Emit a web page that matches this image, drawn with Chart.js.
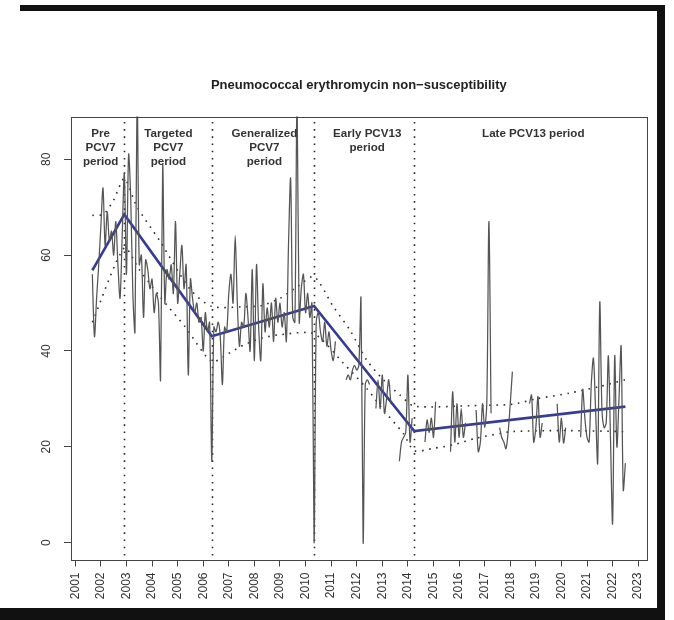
<!DOCTYPE html>
<html>
<head>
<meta charset="utf-8">
<script src="https://cdn.jsdelivr.net/npm/chart.js@4.4.1/dist/chart.umd.min.js"></script>
<style>
  html, body { margin: 0; padding: 0; background: #fff; }
  #wrap { position: relative; width: 674px; height: 620px; overflow: hidden; background: #fff; }
  #c { position: absolute; left: 0; top: 0; }
  .frame { position: absolute; background: #111; }
</style>
</head>
<body>
<div id="wrap">
  <canvas id="c" width="674" height="620"></canvas>
  <div class="frame" style="left:20px;top:5px;width:645px;height:6px"></div>
  <div class="frame" style="left:657px;top:5px;width:8px;height:615px"></div>
  <div class="frame" style="left:0;top:608px;width:665px;height:12px"></div>
</div>
<script>
// Axis ticks
const tickYears = [2001, 2002, 2003, 2004, 2005, 2006, 2007, 2008, 2009, 2010, 2011, 2012,
                   2013, 2014, 2015, 2016, 2017, 2018, 2019, 2020, 2021, 2022, 2023];
const yTicks = [0, 20, 40, 60, 80];

// Vaccine period boundaries (decimal years) and their labels
const periodStarts = [2002.917, 2006.333, 2010.333, 2014.25];
const periodLabels = [
  { year: 2001.99, lines: ['Pre', 'PCV7', 'period'] },
  { year: 2004.64, lines: ['Targeted', 'PCV7', 'period'] },
  { year: 2008.39, lines: ['Generalized', 'PCV7', 'period'] },
  { year: 2012.41, lines: ['Early PCV13', 'period'] },
  { year: 2018.90, lines: ['Late PCV13 period'] }
];

// Monthly erythromycin non-susceptibility (%), first month = Sep 2001
const seriesStart = 2001 + 8 / 12;
const prePCV7 = [56, 43, 51, 58, 66, 74, 62, 69, 63, 65, 60, 67, 58, 51, 64];
const targetedPCV7 = [77, 56, 81, 72, 52, 44, 95, 58, 60, 47, 59, 57, 53, 55, 48, 52, 50, 34, 79, 50,
                      57, 55, 58, 52, 67, 50, 56, 62, 53, 58, 35, 55, 51, 48, 50, 46, 47, 40, 48, 44, 46];
const generalizedPCV7 = [17, 45, 44, 46, 43, 33, 45, 44, 52, 56, 50, 64, 50, 41, 46, 45, 52, 47, 40, 57,
                         38, 58, 45, 38, 54, 44, 49, 45, 50, 42, 51, 46, 50, 45, 48, 42, 62, 76, 47, 46,
                         95, 46, 53, 56, 48, 52, 47, 50];
const earlyPCV13 = [0, 46, 48, 44, 42, 46, 41, 44, 40, 38, 42, null, null, null, null, 34, 35, 34, 36, 37,
                    36, 37, 51, 0, 33, 34, 33, null, null, 28, 34, 28, 35, 27, 30, 34, 29, null, null, null,
                    17, 21, 22, 23, 35, 21, 26];
const latePCV13 = [null, null, null, null, null, 21, 25.6, 23, 26, 22, 29.4, null, null, null, null, null, null,
                   19, 31.5, 21, 29, 22, 28, 22, 25, null, null, null, null,
                   27.7, 19, 21, 29, 24, 29, 67, 27, null, null, null,
                   24, 22, 21, 19.6, 23, 29, 35.7, null, null, null, null, null, null, null,
                   29, 30.8, 21, 24, 30.5, 22, 25, null, null, null, null, null, null,
                   29, 21, 26, 20.8, 24, null, null, null, null, null, null,
                   22, 32, 26, 22, 21, 33, 38.5, 28, 16.6, 50.2, 28, 24, 25, 39, 22, 4, 39, 20, 30, 41, 11, 16.6];

// Segmented regression fit and its confidence limits
const trendYears = [2001.667, 2002.917, 2006.333, 2010.333, 2014.25, 2022.5];
const trendValues = [56.8, 68.5, 43.1, 49.4, 23.3, 28.4];
const upperYears = [2001.667, 2002.1, 2002.5, 2002.917, 2003.4, 2004.3, 2005.5, 2006.333, 2007.5, 2008.3,
                    2009.0, 2009.7, 2010.333, 2011.08, 2011.73, 2012.39, 2013.04, 2013.69, 2014.25,
                    2016.5, 2018.1, 2019.0, 2020.3, 2021.5, 2022.5];
const upperValues = [68.3, 68.5, 71.5, 76, 70.2, 63, 52.8, 49.3, 49.2, 49.5,
                     51, 53.5, 55.5, 49.3, 44.4, 38.1, 34, 30.8, 28.5,
                     28.6, 28.9, 30.0, 31.2, 32.6, 34];
const lowerYears = [2001.667, 2002.917, 2003.5, 2004.3, 2005.3, 2006.333, 2007.0, 2007.6, 2008.3, 2009.0,
                    2010.333, 2011.47, 2012.39, 2013.04, 2013.82, 2014.25, 2015.0, 2015.75, 2016.66,
                    2017.6, 2018.1, 2020.0, 2022.5];
const lowerValues = [46, 61.5, 57, 51.4, 45, 37.8, 39.5, 41.3, 42.7, 43.4,
                     43.6, 37.5, 32.2, 27.7, 22.8, 19.2, 19.7, 20.4, 21.8,
                     22.8, 23.2, 23.4, 23.2];

const monthly = [].concat(prePCV7, targetedPCV7, generalizedPCV7, earlyPCV13, latePCV13);
const monthlyPoints = monthly.map((v, i) => ({ x: seriesStart + i / 12, y: v }));
const pairUp = (xs, ys) => xs.map((x, i) => ({ x: x, y: ys[i] }));

const FONT = '"Liberation Sans", Arial, Helvetica, sans-serif';
const INK = '#333333';

// Plot box, period separators and period captions
const decorations = {
  id: 'decorations',
  beforeDatasetsDraw(chart) {
    const { ctx, chartArea: a, scales: { x } } = chart;
    ctx.save();
    ctx.strokeStyle = '#2a2a2a';
    ctx.lineWidth = 1.6;
    ctx.setLineDash([1.6, 5.6]);
    periodStarts.forEach(p => {
      const px = Math.round(x.getPixelForValue(p)) + 0.5;
      ctx.beginPath();
      ctx.moveTo(px, a.bottom - 4);
      ctx.lineTo(px, a.top);
      ctx.stroke();
    });
    ctx.restore();
  },
  afterDatasetsDraw(chart) {
    const { ctx, chartArea: a, scales: { x } } = chart;
    ctx.save();
    ctx.strokeStyle = '#444';
    ctx.lineWidth = 1;
    ctx.strokeRect(Math.round(a.left) + 0.5, Math.round(a.top) + 0.5,
                   Math.round(a.right - a.left), Math.round(a.bottom - a.top));
    ctx.fillStyle = INK;
    ctx.font = 'bold 11.6px ' + FONT;
    ctx.textAlign = 'center';
    ctx.textBaseline = 'middle';
    periodLabels.forEach(lbl => {
      const px = x.getPixelForValue(lbl.year);
      lbl.lines.forEach((t, k) => ctx.fillText(t, px, a.top + 17.5 + k * 14));
    });
    ctx.restore();
  }
};

new Chart(document.getElementById('c'), {
  type: 'line',
  data: {
    datasets: [
      { data: monthlyPoints, borderColor: '#555555', borderWidth: 1.25, pointRadius: 0,
        tension: 0.3, spanGaps: false, clip: 0 },
      { data: pairUp(upperYears, upperValues), borderColor: '#2e2e2e', borderWidth: 1.6,
        borderDash: [1.6, 5.6], pointRadius: 0, tension: 0.25, clip: 0 },
      { data: pairUp(lowerYears, lowerValues), borderColor: '#2e2e2e', borderWidth: 1.6,
        borderDash: [1.6, 5.6], pointRadius: 0, tension: 0.25, clip: 0 },
      { data: pairUp(trendYears, trendValues), borderColor: '#363c96', borderWidth: 2.6,
        pointRadius: 0, tension: 0, clip: 0 }
    ]
  },
  options: {
    responsive: false,
    animation: false,
    devicePixelRatio: 1,
    events: [],
    layout: { padding: { left: 0, right: 27.3, top: 0, bottom: 0 } },
    plugins: {
      legend: { display: false },
      tooltip: { enabled: false },
      title: {
        display: true,
        fullSize: false,
        text: 'Pneumococcal erythromycin non\u2212susceptibility',
        color: '#222',
        font: { family: FONT, size: 13, weight: 'bold' },
        padding: { top: 78, bottom: 23 }
      }
    },
    scales: {
      x: {
        type: 'linear',
        min: 2000.833,
        max: 2023.333,
        afterBuildTicks: s => { s.ticks = tickYears.map(v => ({ value: v })); },
        afterFit: s => { s.height = 60.5; },
        border: { display: false },
        grid: { display: true, drawOnChartArea: false, drawTicks: true, tickLength: 7, color: '#444' },
        ticks: {
          autoSkip: false, minRotation: 90, maxRotation: 90, padding: 6,
          color: INK, font: { family: FONT, size: 12 },
          callback: v => String(v)
        }
      },
      y: {
        type: 'linear',
        min: -3.5,
        max: 88.9,
        afterBuildTicks: s => { s.ticks = yTicks.map(v => ({ value: v })); },
        afterFit: s => { s.width = 71; },
        border: { display: false },
        grid: { display: true, drawOnChartArea: false, drawTicks: true, tickLength: 7, color: '#444' },
        ticks: {
          minRotation: 90, maxRotation: 90, crossAlign: 'center', padding: 11,
          color: INK, font: { family: FONT, size: 12 },
          callback: v => String(v)
        }
      }
    }
  },
  plugins: [decorations]
});
</script>
</body>
</html>
